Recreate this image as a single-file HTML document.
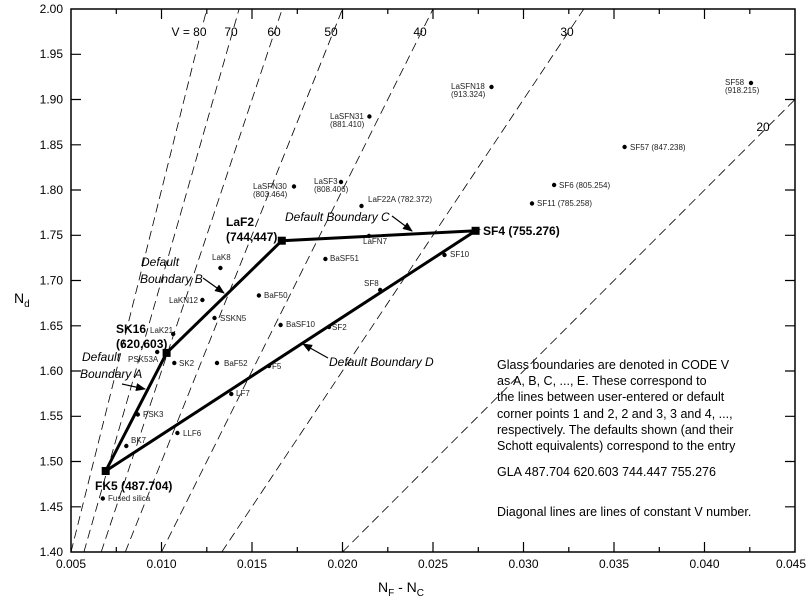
<!DOCTYPE html>
<html><head><meta charset="utf-8"><style>
html,body{margin:0;padding:0;background:#fff;}
svg{display:block;font-family:"Liberation Sans",sans-serif;}
</style></head><body>
<svg width="807" height="608" viewBox="0 0 807 608" xmlns="http://www.w3.org/2000/svg">
<defs><clipPath id="c"><rect x="71" y="9" width="724" height="543"/></clipPath>
<marker id="ar" markerWidth="10" markerHeight="8" refX="9" refY="4" orient="auto" markerUnits="userSpaceOnUse"><path d="M0,0 L10,4 L0,8 z" fill="#000"/></marker></defs>
<g clip-path="url(#c)" stroke="#000" stroke-width="0.8" stroke-dasharray="9,5" fill="none">
<line x1="71" y1="552" x2="206.8" y2="9"/>
<line x1="83.9" y1="552" x2="239.1" y2="9"/>
<line x1="101.2" y1="552" x2="282.2" y2="9"/>
<line x1="125.3" y1="552" x2="342.5" y2="9"/>
<line x1="161.5" y1="552" x2="433" y2="9"/>
<line x1="221.8" y1="552" x2="583.8" y2="9"/>
<line x1="342.5" y1="552" x2="795" y2="99.5"/>
</g>
<g font-size="12" text-anchor="middle">
<rect x="170" y="25" width="38" height="13" fill="#fff"/>
<text x="189" y="36">V = 80</text><text x="231" y="36">70</text><text x="274" y="36">60</text>
<text x="331" y="36">50</text><text x="420" y="36">40</text><text x="567" y="36">30</text><text x="763" y="131">20</text>
</g>
<rect x="71" y="9" width="724" height="543" fill="none" stroke="#000" stroke-width="1.5"/>
<g stroke="#000" stroke-width="1.2">
<path d="M161.5,552v-10M252,552v-10M342.5,552v-10M433,552v-10M523.5,552v-10M614,552v-10M704.5,552v-10M161.5,9v10M252,9v10M342.5,9v10M433,9v10M523.5,9v10M614,9v10M704.5,9v10"/>
<path d="M116.3,552v-5M206.8,552v-5M297.3,552v-5M387.8,552v-5M478.3,552v-5M568.8,552v-5M659.3,552v-5M749.8,552v-5M116.3,9v5M206.8,9v5M297.3,9v5M387.8,9v5M478.3,9v5M568.8,9v5M659.3,9v5M749.8,9v5"/>
<path d="M71,54.3h10M71,99.5h10M71,144.8h10M71,190h10M71,235.3h10M71,280.5h10M71,325.8h10M71,371h10M71,416.3h10M71,461.5h10M71,506.8h10"/>
<path d="M795,54.3h-10M795,99.5h-10M795,144.8h-10M795,190h-10M795,235.3h-10M795,280.5h-10M795,325.8h-10M795,371h-10M795,416.3h-10M795,461.5h-10M795,506.8h-10"/>
</g>
<g font-size="12" text-anchor="end">
<text x="63" y="13">2.00</text><text x="63" y="58">1.95</text><text x="63" y="103.5">1.90</text><text x="63" y="149">1.85</text><text x="63" y="194">1.80</text><text x="63" y="239">1.75</text><text x="63" y="284.5">1.70</text><text x="63" y="330">1.65</text><text x="63" y="375">1.60</text><text x="63" y="420">1.55</text><text x="63" y="465.5">1.50</text><text x="63" y="511">1.45</text><text x="63" y="556">1.40</text>
</g>
<g font-size="12" text-anchor="middle">
<text x="71" y="568">0.005</text><text x="161.5" y="568">0.010</text><text x="252" y="568">0.015</text><text x="342.5" y="568">0.020</text><text x="433" y="568">0.025</text><text x="523.5" y="568">0.030</text><text x="614" y="568">0.035</text><text x="704.5" y="568">0.040</text><text x="791" y="568">0.045</text>
</g>
<text x="14" y="303" font-size="14">N<tspan font-size="10" dy="4">d</tspan></text>
<text x="378" y="592" font-size="14">N<tspan font-size="10" dy="4">F</tspan><tspan dy="-4"> - N</tspan><tspan font-size="10" dy="4">C</tspan></text>
<polyline points="105.7,471 166.6,352.9 281.8,240.7 475.6,230.8 105.7,471" fill="none" stroke="#000" stroke-width="3"/>
<g fill="#000"><rect x="101.7" y="467" width="8" height="8"/><rect x="162.6" y="348.9" width="8" height="8"/><rect x="277.8" y="236.7" width="8" height="8"/><rect x="471.6" y="226.8" width="8" height="8"/></g>
<g fill="#000">
<circle cx="102.8" cy="498.5" r="2.2"/><circle cx="126.3" cy="446" r="2.2"/><circle cx="137.8" cy="414.5" r="2.2"/><circle cx="177.4" cy="433" r="2.2"/><circle cx="174.3" cy="363" r="2.2"/><circle cx="157.2" cy="352" r="2.2"/><circle cx="173.2" cy="334" r="2.2"/><circle cx="202.4" cy="300" r="2.2"/><circle cx="220.4" cy="268" r="2.2"/><circle cx="214.5" cy="318" r="2.2"/><circle cx="258.9" cy="295.5" r="2.2"/><circle cx="217" cy="363" r="2.2"/><circle cx="280.6" cy="325" r="2.2"/><circle cx="231.3" cy="394" r="2.2"/><circle cx="269" cy="366" r="2.2"/><circle cx="329" cy="327" r="2.2"/><circle cx="325.4" cy="259" r="2.2"/><circle cx="369" cy="236" r="2.2"/><circle cx="380.2" cy="290" r="2.2"/><circle cx="444.5" cy="255" r="2.2"/><circle cx="361.5" cy="206" r="2.2"/><circle cx="294" cy="186.5" r="2.2"/><circle cx="341" cy="182" r="2.2"/><circle cx="369.4" cy="116.5" r="2.2"/><circle cx="491.5" cy="87" r="2.2"/><circle cx="751" cy="83" r="2.2"/><circle cx="624.6" cy="147" r="2.2"/><circle cx="554.1" cy="185" r="2.2"/><circle cx="532" cy="203.5" r="2.2"/>
</g>
<g font-size="8" fill="#222">
<text x="108" y="501">Fused silica</text><text x="131" y="443">BK7</text><text x="143" y="417">PSK3</text><text x="183" y="436">LLF6</text><text x="179" y="366">SK2</text><text x="128" y="362">PSK53A</text><text x="150" y="333">LaK21</text><text x="169" y="303">LaKN12</text><text x="212" y="260">LaK8</text><text x="220" y="321">SSKN5</text><text x="264" y="298">BaF50</text><text x="224" y="366">BaF52</text><text x="286" y="327">BaSF10</text><text x="236" y="396">LF7</text><text x="272" y="369">F5</text><text x="332" y="330">SF2</text><text x="330" y="261">BaSF51</text><text x="363" y="244">LaFN7</text><text x="364" y="286">SF8</text><text x="450" y="257">SF10</text><text x="368" y="202">LaF22A (782.372)</text>
<text x="253" y="189">LaSFN30</text><text x="253" y="197">(803.464)</text><text x="314" y="184">LaSF3</text><text x="314" y="192">(808.406)</text><text x="330" y="119">LaSFN31</text><text x="330" y="127">(881.410)</text><text x="451" y="89">LaSFN18</text><text x="451" y="97">(913.324)</text><text x="725" y="85">SF58</text><text x="725" y="93">(918.215)</text><text x="630" y="150">SF57 (847.238)</text><text x="559" y="188">SF6 (805.254)</text><text x="537" y="206">SF11 (785.258)</text>
</g>
<g font-size="12" font-weight="bold">
<text x="95" y="490">FK5 (487.704)</text><text x="483" y="235">SF4 (755.276)</text>
<text x="226" y="226">LaF2</text><text x="226" y="241">(744,447)</text>
<text x="116" y="333">SK16</text><text x="116" y="348">(620,603)</text>
</g>
<g font-size="12" font-style="italic">
<text x="285" y="221">Default Boundary C</text><text x="329" y="366">Default Boundary D</text>
<text x="141" y="266">Default</text><text x="140" y="283">Boundary B</text>
<text x="82" y="361">Default</text><text x="80" y="378">Boundary A</text>
</g>
<g stroke="#000" stroke-width="1.2" marker-end="url(#ar)">
<line x1="203" y1="278" x2="224" y2="293"/><line x1="122" y1="384" x2="145" y2="389"/>
<line x1="392" y1="216" x2="412" y2="231"/><line x1="328" y1="358" x2="303" y2="344"/>
</g>
<g font-size="12.5">
<text x="497" y="369">Glass boundaries are denoted in CODE V</text>
<text x="497" y="385">as A, B, C, ..., E.  These correspond to</text>
<text x="497" y="401">the lines between user-entered or default</text>
<text x="497" y="418">corner points 1 and 2, 2 and 3, 3 and 4, ...,</text>
<text x="497" y="434">respectively.  The defaults shown (and their</text>
<text x="497" y="450">Schott equivalents) correspond to the entry</text>
<text x="497" y="476">GLA 487.704 620.603 744.447 755.276</text>
<text x="497" y="516">Diagonal lines are lines of constant V number.</text>
</g>
</svg>
</body></html>
